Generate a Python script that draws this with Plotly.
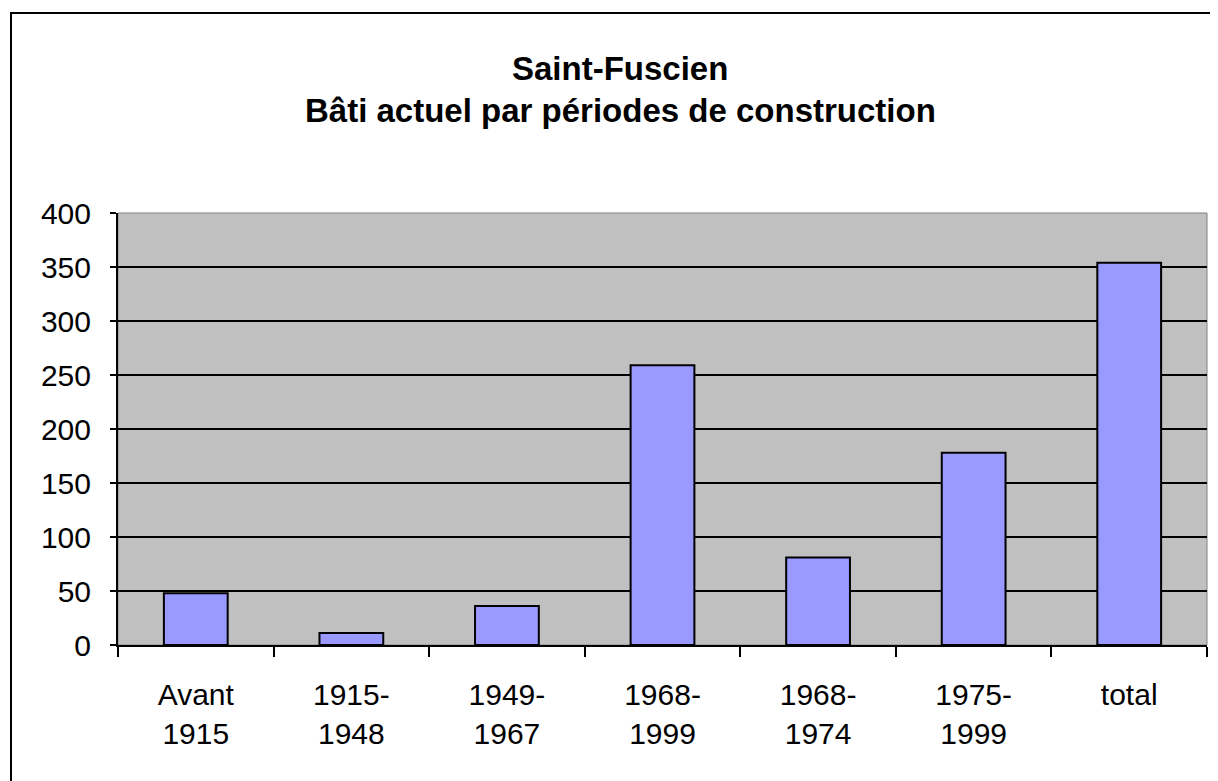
import plotly.graph_objects as go

categories = ["Avant<br>1915", "1915-<br>1948", "1949-<br>1967", "1968-<br>1999",
              "1968-<br>1974", "1975-<br>1999", "total"]
values = [48, 11, 36, 259, 81, 178, 354]
y_ticks = [0, 50, 100, 150, 200, 250, 300, 350, 400]

# page body margin offset (plotly html adds 8px)
OFF = 8
W, H = 1218 - OFF, 781 - OFF
L, R, T, B = 118 - OFF, 1207 - OFF, 213 - OFF, 645 - OFF
pw, ph = R - L, B - T

fig = go.Figure(go.Bar(
    x=categories, y=values,
    marker=dict(color="#9999FF", line=dict(color="black", width=2)),
    width=0.41,
))

fig.update_layout(
    width=W, height=H,
    margin=dict(l=L, r=W - R, t=T, b=H - B, pad=0),
    paper_bgcolor="white", plot_bgcolor="#C0C0C0",
    showlegend=False,
    font=dict(family="Liberation Sans, Arial, sans-serif", color="black"),
    xaxis=dict(
        type="category", tickson="boundaries", ticks="outside", ticklen=10,
        tickwidth=2, tickcolor="black", showline=True, linecolor="black", linewidth=2,
        showgrid=False, tickfont=dict(size=30), ticklabelstandoff=22,
        range=[-0.5, 6.5],
    ),
    yaxis=dict(
        range=[0, 400], tickvals=y_ticks, ticks="outside", ticklen=6, tickwidth=2,
        tickcolor="black", showline=True, linecolor="black", linewidth=2,
        showgrid=True, gridcolor="black", gridwidth=2, zeroline=False,
        tickfont=dict(size=30), ticklabelstandoff=13,
    ),
)

# plot area frame (top/right thin grey)
fig.add_shape(type="rect", xref="paper", yref="paper", x0=0, y0=0, x1=1, y1=1,
              line=dict(color="#808080", width=1), layer="below")

# outer chart border (left and top visible)
fig.add_shape(type="rect", xref="paper", yref="paper",
              x0=(11 - OFF - L) / pw, y0=-1, x1=(1240 - OFF - L) / pw, y1=(B - (13 - OFF)) / ph,
              line=dict(color="black", width=2))

xc = (620 - OFF - L) / pw
fig.add_annotation(text="<b>Saint-Fuscien</b>", xref="paper", yref="paper",
                   x=xc, y=(B - (68 - OFF)) / ph, showarrow=False, xanchor="center", yanchor="middle",
                   font=dict(size=33))
fig.add_annotation(text="<b>Bâti actuel par périodes de construction</b>", xref="paper", yref="paper",
                   x=xc, y=(B - (110 - OFF)) / ph, showarrow=False, xanchor="center", yanchor="middle",
                   font=dict(size=33))

fig.write_html("out.html")
